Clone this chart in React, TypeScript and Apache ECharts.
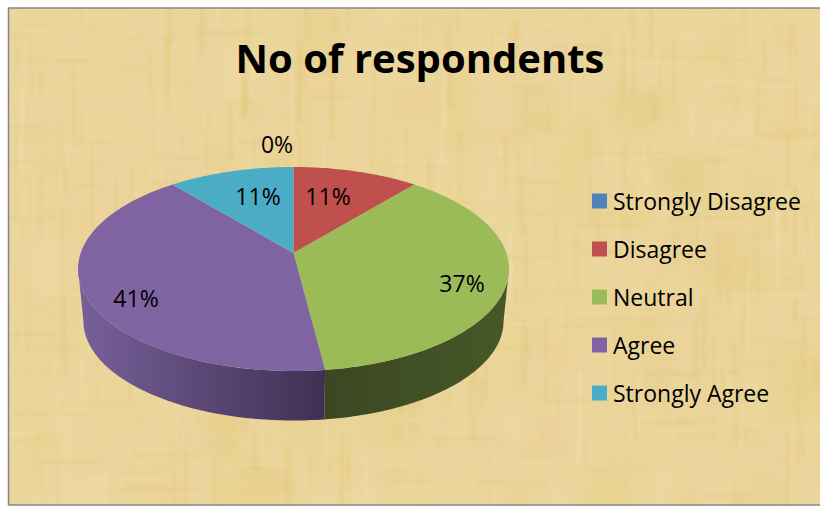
import React, { useEffect, useRef } from "react";
import * as echarts from "echarts";

const titleText = "No of respondents";
const categories = ["Strongly Disagree", "Disagree", "Neutral", "Agree", "Strongly Agree"];
const values = [0, 11, 37, 41, 11];
const colors = ["#4F81BD", "#C0504D", "#9BBB59", "#8064A2", "#4BACC6"];
const wallStops: (string[] | null)[] = [null, null, ["#465828", "#3C4722"], ["#77609A", "#3F3052"], null];
const labelPos = [[277, 144], [328, 196], [462, 283], [136, 298], [258, 196]];

const FONT = "'Open Sans', sans-serif";
const total = values.reduce((a, b) => a + b, 0);
const cx = 293.5, topY0 = 253, baseY0 = 305.4, a = 212.8, b = 99.5, k = 0.157, baseScale = 0.975;
const rim = (deg: number, y0: number, s: number) => {
  const t = (deg * Math.PI) / 180, u = Math.sin(t), v = Math.cos(t), d = 1 + k * v;
  return [cx + (s * a * u) / d, y0 - (s * b * v) / d];
};
const arc = (from: number, to: number, y0: number, s: number) => {
  const pts: number[][] = [];
  const n = Math.max(1, Math.ceil(Math.abs(to - from)));
  for (let i = 0; i <= n; i++) pts.push(rim(from + ((to - from) * i) / n, y0, s));
  return pts;
};

function texture(): string {
  const c = document.createElement("canvas");
  c.width = 812; c.height = 497;
  const g = c.getContext("2d")!;
  g.fillStyle = "#EBD69C";
  g.fillRect(0, 0, 812, 497);
  let seed = 12345;
  const rnd = () => ((seed = (seed * 16807) % 2147483647) / 2147483647);
  const tones = ["228,200,110", "246,226,180", "242,212,165", "222,198,110", "236,214,150", "240,205,150"];
  const pick = () => tones[Math.floor(rnd() * tones.length)];
  g.filter = "blur(5px)";
  for (let i = 0; i < 200; i++) {
    g.fillStyle = `rgba(${pick()},${0.08 + rnd() * 0.14})`;
    g.fillRect(rnd() * 812, rnd() * 497, 15 + rnd() * 40, 20 + rnd() * 60);
  }
  g.filter = "blur(1px)";
  for (let i = 0; i < 800; i++) {
    g.fillStyle = `rgba(${pick()},${0.1 + rnd() * 0.18})`;
    g.fillRect(rnd() * 812, rnd() * 497 - 30, 1 + rnd() * 5, 15 + rnd() * 80);
  }
  for (let i = 0; i < 600; i++) {
    g.fillStyle = `rgba(${pick()},${0.08 + rnd() * 0.16})`;
    g.fillRect(rnd() * 812 - 30, rnd() * 497, 15 + rnd() * 70, 1 + rnd() * 4);
  }
  return c.toDataURL("image/png");
}

export default function App() {
  const ref = useRef<HTMLDivElement>(null);
  useEffect(() => {
    const chart = echarts.init(ref.current!, null, { renderer: "svg" });
    let cum = 0;
    const series = categories.map((name, i) => {
      const start = (cum / total) * 360;
      cum += values[i];
      const end = (cum / total) * 360;
      return {
        type: "custom",
        name,
        coordinateSystem: "none",
        silent: true,
        itemStyle: { color: colors[i] },
        z: 3,
        data: [values[i]],
        renderItem: (_p: any, api: any) => {
          const children: any[] = [];
          const from = Math.max(start, 99), to = Math.min(end, 261);
          const stops = wallStops[i];
          if (to > from && stops) {
            children.push({
              type: "polygon",
              shape: { points: [...arc(from, to, topY0, 1), ...arc(to, from, baseY0, baseScale)] },
              style: {
                fill: new echarts.graphic.LinearGradient(start > 130 ? 0 : 1, 0, start > 130 ? 1 : 0, 0, [
                  { offset: 0, color: stops[0] },
                  { offset: 1, color: stops[1] },
                ]),
              },
            });
          }
          if (api.value(0) > 0) {
            children.push({
              type: "polygon",
              shape: { points: [[cx, topY0], ...arc(start, end, topY0, 1)] },
              style: { fill: colors[i] },
            });
          }
          return { type: "group", children };
        },
      };
    });
    const labels = categories.map((_, i) => ({
      type: "text",
      x: labelPos[i][0],
      y: labelPos[i][1],
      z: 10,
      style: {
        text: `${Math.round((values[i] / total) * 100)}%`,
        font: `23px ${FONT}`,
        fill: "#000",
        textAlign: "center",
        textVerticalAlign: "middle",
      },
    }));
    chart.setOption({
      animation: false,
      title: {
        text: titleText,
        left: 415,
        top: 32,
        textAlign: "center",
        textStyle: { fontFamily: FONT, fontSize: 40, fontWeight: "bold", color: "#000" },
      },
      legend: {
        orient: "vertical",
        left: 587,
        top: 183,
        icon: "rect",
        itemWidth: 15,
        itemHeight: 15,
        itemGap: 22,
        selectedMode: false,
        data: categories,
        textStyle: { fontFamily: FONT, fontSize: 23, color: "#000", lineHeight: 26, padding: [0, 0, 0, 1] },
      },
      graphic: {
        elements: [
          {
            type: "image",
            x: 8,
            y: 8,
            z: -10,
            silent: true,
            style: { image: texture(), x: 0, y: 0, width: 812, height: 497 },
          },
          {
            type: "rect",
            z: -9,
            silent: true,
            shape: { x: 8.5, y: 8, width: 820, height: 497 },
            style: { fill: "none", stroke: "#868686", lineWidth: 1.5 },
          },
          ...labels,
        ],
      },
      series,
    });
    return () => chart.dispose();
  }, []);
  return <div ref={ref} style={{ position: "absolute", left: 0, top: 0, width: 820, height: 510 }} />;
}
